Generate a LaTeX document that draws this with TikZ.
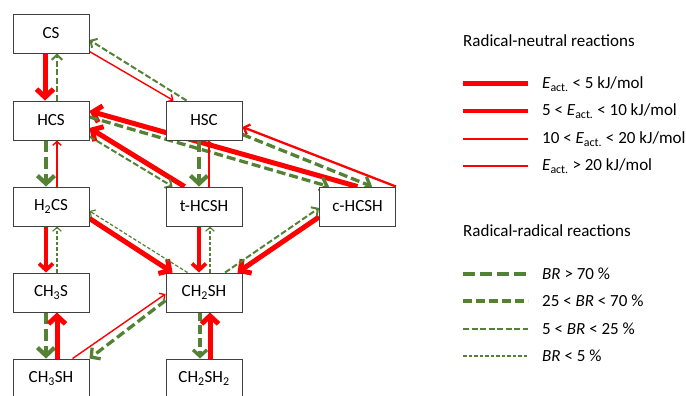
\documentclass[tikz,border=0pt]{standalone}
\usepackage{fontspec}
\setmainfont{Carlito}
\usetikzlibrary{arrows.meta,calc,backgrounds}
\definecolor{gr}{RGB}{84,130,53}
\newcommand{\lgfont}{\fontsize{17}{20}\selectfont}
\newcommand{\Eact}{{\itshape E}\textsubscript{act.}}
\begin{document}
\begin{tikzpicture}[x=1pt,y=-1pt,
  box/.style={draw=black!75, line width=0.9pt, fill=white, minimum width=76pt, minimum height=39pt, inner sep=0pt, font=\lgfont},
  lab/.style={anchor=west, font=\lgfont, inner sep=0pt},
  r1/.style={draw=red, line width=5pt},
  r2/.style={draw=red, line width=3.7pt},
  r3/.style={draw=red, line width=2.3pt},
  r4/.style={draw=red, line width=1.4pt},
  g1/.style={draw=gr, line width=4.2pt, dash pattern=on 12pt off 5pt},
  g2/.style={draw=gr, line width=3.3pt, dash pattern=on 9pt off 4pt},
  g3/.style={draw=gr, line width=2pt, dash pattern=on 6pt off 2.5pt},
  g4/.style={draw=gr, line width=1.2pt, dash pattern=on 3.5pt off 2pt},
  ta/.style={-{Straight Barb[length=8pt,width=17pt]}},
  tb/.style={-{Straight Barb[length=6.5pt,width=14pt]}},
  tc/.style={-{Straight Barb[length=5pt,width=10.5pt]}},
  td/.style={-{Straight Barb[length=4pt,width=8.5pt]}},
  ra/.style={r1,ta}, rb/.style={r2,tb}, rc/.style={r3,tc}, rd/.style={r4,td},
  ga/.style={g1,ta}, gb/.style={g2,tb}, gc/.style={g3,tc}, gd/.style={g4,td}
]
\useasboundingbox (0,0) rectangle (686,396);

% nodes
\node[box] (CS) at (51,33.5) {CS};
\node[box] (HCS) at (51,120.5) {HCS};
\node[box] (HSC) at (204,120.5) {HSC};
\node[box] (H2CS) at (51,206.5) {H\textsubscript{2}CS};
\node[box] (tHCSH) at (204,206.5) {t-HCSH};
\node[box] (cHCSH) at (357.5,206.5) {c-HCSH};
\node[box] (CH3S) at (51,292.5) {CH\textsubscript{3}S};
\node[box] (CH2SH) at (204,292.5) {CH\textsubscript{2}SH};
\node[box] (CH3SH) at (51,378.5) {CH\textsubscript{3}SH};
\node[box] (CH2SH2) at (204,378.5) {CH\textsubscript{2}SH\textsubscript{2}};

\begin{pgfonlayer}{background}
% CS / HCS
\draw[ra] ($(CS.south)+(-6,0)$) -- ($(HCS.north)+(-6,0)$);
\draw[gc] ($(HCS.north)+(6,0)$) -- ($(CS.south)+(6,0)$);
% CS / HSC
\draw[rd] ($(CS.south east)+(0,-2)$) -- ($(HSC.north west)+(8,0)$);
\draw[gc] ($(HSC.north west)+(21,0)$) -- ($(CS.east)+(0,6.5)$);
% to HCS
\draw[ra] (cHCSH.north) -- ($(HCS.east)+(0,-9.5)$);
\draw[ra] ($(tHCSH.north west)+(19,0)$) -- ($(HCS.east)+(0,7.5)$);
\draw[gc] ($(HCS.south east)+(0,-4)$) -- ($(tHCSH.north west)+(7,0)$);
\draw[gb] ($(HCS.east)+(0,-3.5)$) -- ($(cHCSH.north west)+(10,0)$);
% HSC
\draw[gb] ($(HSC.south east)+(0,-6)$) -- ($(cHCSH.north west)+(53,0)$);
\draw[rc] (cHCSH.north east) -- ($(HSC.east)+(0,6.5)$);
\draw[ga] ($(HSC.south)+(-5,0)$) -- ($(tHCSH.north)+(-5,0)$);
\draw[rd] ($(tHCSH.north)+(5,0)$) -- ($(HSC.south)+(5,0)$);
% HCS / H2CS
\draw[ga] ($(HCS.south)+(-5,0)$) -- ($(H2CS.north)+(-5,0)$);
\draw[rd] ($(H2CS.north)+(6,0)$) -- ($(HCS.south)+(6,0)$);
% H2CS / CH3S
\draw[rb] ($(H2CS.south)+(-5,0)$) -- ($(CH3S.north)+(-5,0)$);
\draw[gd] ($(CH3S.north)+(6,0)$) -- ($(H2CS.south)+(6,0)$);
% H2CS / CH2SH
\draw[ra] ($(H2CS.south east)+(0,-8)$) -- ($(CH2SH.north west)+(7,0)$);
\draw[gd] ($(CH2SH.north west)+(22,0)$) -- ($(H2CS.east)+(0,4.5)$);
% tHCSH / CH2SH
\draw[rb] ($(tHCSH.south)+(-5,0)$) -- ($(CH2SH.north)+(-5,0)$);
\draw[gd] ($(CH2SH.north)+(6,0)$) -- ($(tHCSH.south)+(6,0)$);
% cHCSH / CH2SH
\draw[ra] ($(cHCSH.west)+(0,10.5)$) -- ($(CH2SH.north east)+(-5,0)$);
\draw[gc] ($(CH2SH.north)+(21,0)$) -- ($(cHCSH.west)+(0,1.5)$);
% CH3S / CH3SH
\draw[ga] ($(CH3S.south)+(-5,0)$) -- ($(CH3SH.north)+(-5,0)$);
\draw[ra] ($(CH3SH.north)+(6,0)$) -- ($(CH3S.south)+(6,0)$);
% CH3SH / CH2SH
\draw[rd] ($(CH3SH.north west)+(60,0)$) -- ($(CH2SH.west)+(0,1.5)$);
\draw[gb] ($(CH2SH.west)+(0,8)$) -- (CH3SH.north east);
% CH2SH / CH2SH2
\draw[gb] ($(CH2SH.south)+(-4,0)$) -- ($(CH2SH2.north)+(-4,0)$);
\draw[ra] ($(CH2SH2.north)+(6,0)$) -- ($(CH2SH.south)+(6,0)$);
\end{pgfonlayer}

% legend
\node[lab] (T1) at (463,41) {Radical-neutral reactions};
\coordinate (a1) at (463,84);  \coordinate (b1) at (528,84);
\coordinate (a2) at (463,111); \coordinate (b2) at (528,111);
\coordinate (a3) at (463,139); \coordinate (b3) at (528,139);
\coordinate (a4) at (463,166); \coordinate (b4) at (528,166);
\draw[r1] (a1) -- (b1);
\draw[r2] (a2) -- (b2);
\draw[r3] (a3) -- (b3);
\draw[r4] (a4) -- (b4);
\node[lab] (L1) at (542,84) {\Eact{} < 5 kJ/mol};
\node[lab] (L2) at (542,111) {5 < \Eact{} < 10 kJ/mol};
\node[lab] (L3) at (542,139) {10 < \Eact{} < 20 kJ/mol};
\node[lab] (L4) at (542,166) {\Eact{} > 20 kJ/mol};

\node[lab] (T2) at (463,231) {Radical-radical reactions};
\coordinate (c1) at (463,274); \coordinate (d1) at (528,274);
\coordinate (c2) at (463,301); \coordinate (d2) at (528,301);
\coordinate (c3) at (463,329); \coordinate (d3) at (528,329);
\coordinate (c4) at (463,356); \coordinate (d4) at (528,356);
\draw[g1] (c1) -- (d1);
\draw[g2] (c2) -- (d2);
\draw[g3] (c3) -- (d3);
\draw[g4] (c4) -- (d4);
\node[lab] (M1) at (542,274) {{\itshape BR} > 70 \%};
\node[lab] (M2) at (542,301) {25 < {\itshape BR} < 70 \%};
\node[lab] (M3) at (542,329) {5 < {\itshape BR} < 25 \%};
\node[lab] (M4) at (542,356) {{\itshape BR} < 5 \%};
\end{tikzpicture}
\end{document}
